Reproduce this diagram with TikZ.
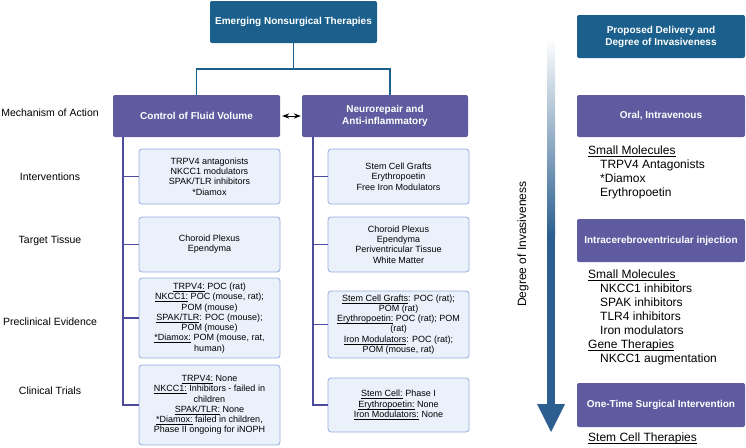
\documentclass[tikz,border=0pt]{standalone}
\usepackage{fontspec}
\setmainfont{Liberation Sans}
\usepackage{xcolor}
\usetikzlibrary{positioning,calc,arrows.meta}
\definecolor{headblue}{RGB}{27,96,141}
\definecolor{groupviolet}{RGB}{94,91,160}
\definecolor{spineviolet}{RGB}{77,76,156}
\definecolor{infofill}{RGB}{234,241,251}
\definecolor{infoline}{RGB}{150,172,220}
\definecolor{arrowblue}{RGB}{44,95,143}
\newcommand{\ul}[1]{\underline{\raisebox{0pt}[\height][0pt]{#1}\rule[-0.3pt]{0pt}{1pt}}}

\begin{document}
\begin{tikzpicture}[x=1pt, y=-1pt,
	headbox/.style={fill=headblue, rounded corners=2pt, text=white, align=center, font=\fontsize{10}{12}\selectfont\bfseries},
	groupbox/.style={fill=groupviolet, rounded corners=2pt, text=white, align=center, font=\fontsize{10}{12}\selectfont\bfseries},
	infobox/.style={fill=infofill, draw=infoline, line width=0.8pt, rounded corners=3pt, align=center, inner sep=2pt, minimum width=141pt, font=\fontsize{9}{10.3}\selectfont},
	rowlabel/.style={font=\fontsize{10.5}{12}\selectfont},
	deliverylist/.style={anchor=north west, align=left, inner sep=0pt, font=\fontsize{12}{14}\selectfont},
	trunk/.style={draw=headblue, line width=1.6pt},
	branch/.style={draw=spineviolet, line width=1.6pt}]
			\useasboundingbox (0,0) rectangle (746,447);

			% headings
			\node [headbox, minimum width=167pt, minimum height=42pt] (therapies) at (293.5,22) {Emerging Nonsurgical Therapies};
			\node [headbox, minimum width=168pt, minimum height=43pt] (delivery) at (661,36.5) {Proposed Delivery and\\Degree of Invasiveness};

			% mechanisms
			\node [groupbox, minimum width=167pt, minimum height=42pt] (fluid) at (196.5,116) {Control of Fluid Volume};
			\node [groupbox, minimum width=166pt, minimum height=42pt] (neuro) at (385,116) {Neurorepair and\\Anti-inflammatory};

			% row labels
			\node [rowlabel] (mechanism) at (50,113) {Mechanism of Action};
			\node [rowlabel] (interventions) at (50,177) {Interventions};
			\node [rowlabel] (tissue) at (50,241) {Target Tissue};
			\node [rowlabel] (preclinical) at (50,322) {Preclinical Evidence};
			\node [rowlabel] (clinical) at (50,391) {Clinical Trials};

			% fluid volume column
			\node [infobox, minimum height=55pt] (fluidA) at (209.5,176.5) {TRPV4 antagonists\\NKCC1 modulators\\SPAK/TLR inhibitors\\*Diamox};
			\node [infobox, minimum height=55pt] (fluidB) at (209.5,244.5) {Choroid Plexus\\Ependyma};
			\node [infobox, minimum height=80pt] (fluidC) at (209.5,318) {\ul{TRPV4:} POC (rat)\\\ul{NKCC1:} POC (mouse, rat);\\POM (mouse)\\\ul{SPAK/TLR}: POC (mouse);\\POM (mouse)\\\ul{*Diamox:} POM (mouse, rat,\\human)};
			\node [infobox, minimum height=80pt] (fluidD) at (209.5,405) {\ul{TRPV4:} None\\\ul{NKCC1:} Inhibitors - failed in\\children\\\ul{SPAK/TLR:} None\\\ul{*Diamox:} failed in children,\\Phase II ongoing for iNOPH};

			% neurorepair column
			\node [infobox, minimum height=55pt] (neuroA) at (398.5,176.5) {Stem Cell Grafts\\Erythropoetin\\Free Iron Modulators};
			\node [infobox, minimum height=55pt] (neuroB) at (398.5,244.5) {Choroid Plexus\\Ependyma\\Periventricular Tissue\\White Matter};
			\node [infobox, minimum height=67pt] (neuroC) at (398.5,324.5) {\ul{Stem Cell Grafts}: POC (rat);\\POM (rat)\\\ul{Erythropoetin:} POC (rat); POM\\(rat)\\\ul{Iron Modulators}: POC (rat);\\POM (mouse, rat)};
			\node [infobox, minimum height=54pt] (neuroD) at (398.5,405) {\ul{Stem Cell:} Phase I\\\ul{Erythropoetin:} None\\\ul{Iron Modulators:} None};

			% connectors
			\coordinate (split) at (293.5,69);
			\draw [trunk] (therapies.south) -- (split) -| (fluid.north);
			\draw [trunk] (split) -| ([xshift=5pt]neuro.north);
			\draw [Stealth-Stealth, line width=0.9pt] ([xshift=2pt]fluid.east) -- ([xshift=-1pt]neuro.west);
			\coordinate (fluidspine) at ([xshift=10pt]fluid.south west);
			\coordinate (neurospine) at ([xshift=11pt]neuro.south west);
			\foreach \b in {fluidA,fluidB,fluidC,fluidD}
				\draw [branch] (fluidspine) |- (\b.west);
			\foreach \b in {neuroA,neuroB,neuroC,neuroD}
				\draw [branch] (neurospine) |- (\b.west);

			% degree of invasiveness
			\shade [top color=white, bottom color=arrowblue] (547,38) rectangle (555,236);
			\fill [arrowblue] (547,235) rectangle (555,405);
			\fill [arrowblue] (537,404) -- (565,404) -- (551,432) -- cycle;
			\node [rotate=90, font=\fontsize{12}{14}\selectfont] (degree) at (523,244) {Degree of Invasiveness};

			% delivery routes
			\node [groupbox, minimum width=168pt, minimum height=42pt] (oral) at (661,116) {Oral, Intravenous};
			\node [groupbox, minimum width=168pt, minimum height=43pt] (icv) at (661,240.5) {Intracerebroventricular injection};
			\node [groupbox, minimum width=168pt, minimum height=44pt] (surgery) at (661,405) {One-Time Surgical Intervention};

			\node [deliverylist] (oralList) at (588,146) {\ul{Small Molecules}\\\hspace*{12pt}TRPV4 Antagonists\\\hspace*{12pt}*Diamox\\\hspace*{12pt}Erythropoetin};
			\node [deliverylist] (icvList) at (588,270) {\ul{Small Molecules\ }\\\hspace*{12pt}NKCC1 inhibitors\\\hspace*{12pt}SPAK inhibitors\\\hspace*{12pt}TLR4 inhibitors\\\hspace*{12pt}Iron modulators\\\ul{Gene Therapies}\\\hspace*{12pt}NKCC1 augmentation};
			\node [deliverylist] (surgeryList) at (588,433) {\ul{Stem Cell Therapies}};
		\end{tikzpicture}
\end{document}
